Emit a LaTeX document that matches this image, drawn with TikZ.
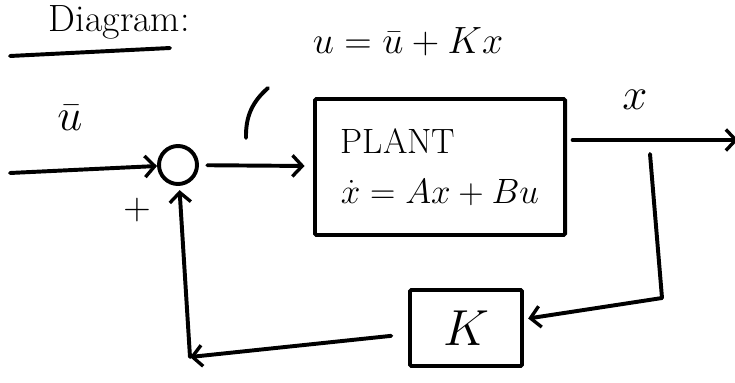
\documentclass[tikz,border=0pt]{standalone}
\usepackage{fix-cm}
\usepackage{amsmath}
\usepackage{tikz}
\usetikzlibrary{arrows.meta,positioning,calc}
\tikzset{
  ctrlblock/.style={draw, line width=2.8pt, rounded corners=1pt, align=left, inner sep=4pt, font=\fontsize{25}{34}\selectfont},
  ctrlsum/.style={draw, circle, line width=2.8pt, minimum size=0.95cm, inner sep=0pt},
  ctrllabel/.style={font=\fontsize{27}{32}\selectfont, inner sep=1pt},
  ctrlarrow/.style={-{Straight Barb[length=7pt,width=15pt,line width=2.4pt]}, line width=2.8pt, line cap=round},
  ctrlline/.style={line width=2.8pt, line cap=round}
}
\begin{document}
\begin{tikzpicture}[x=0.025cm, y=-0.025cm]
\useasboundingbox (0,0) rectangle (735,382);
% title
\node[ctrllabel, anchor=north east, inner sep=0pt] (title) at (190,5) {Diagram:};
\coordinate (ulA) at (10,56);
\coordinate (ulB) at (170,48);
\draw[ctrlline] (ulA) -- (ulB);
% main loop
\coordinate (in) at (10,173);
\node[ctrlsum] (sum) at (178,165) {};
\node[ctrlblock, minimum width=6.25cm, minimum height=3.4cm] (plant) at (440,167)
  {PLANT\\[2pt]$\dot{x}=Ax+Bu$};
\coordinate (branch) at (650,154);
\coordinate (out) at (738,140);
\node[ctrlblock, minimum width=2.8cm, minimum height=1.9cm, align=center, font=\fontsize{36}{40}\selectfont] (gain) at (466,328) {$K$};
\coordinate (fbR) at (662,298);
\coordinate (fbL) at (190,357);
\draw[ctrlarrow] (in) -- (sum);
\draw[ctrlarrow, shorten <=6pt, shorten >=6pt] (sum) -- (plant);
\draw[ctrlarrow, shorten <=4pt] (plant.east |- out) -- (out);
\draw[ctrlline] (branch) -- (fbR);
\draw[ctrlarrow, shorten >=3pt] (fbR) -- (gain);
\draw[ctrlarrow, shorten <=12pt] (gain) -- (fbL);
\draw[ctrlarrow, shorten >=3pt] (fbL) -- (sum);
% labels
\node[ctrllabel, font=\fontsize{32}{34}\selectfont] (ubar) at (70,118) {$\bar{u}$};
\node[ctrllabel] (plus) at (137,210) {$+$};
\node[ctrllabel, font=\fontsize{32}{34}\selectfont] (xout) at (635,100) {$x$};
\node[ctrllabel] (law) at (408,42) {$u=\bar{u}+Kx$};
\coordinate (leadA) at (268,88);
\coordinate (leadB) at (246,138);
\draw[ctrlline] (leadA) to[bend right=25] (leadB);
\end{tikzpicture}
\end{document}
